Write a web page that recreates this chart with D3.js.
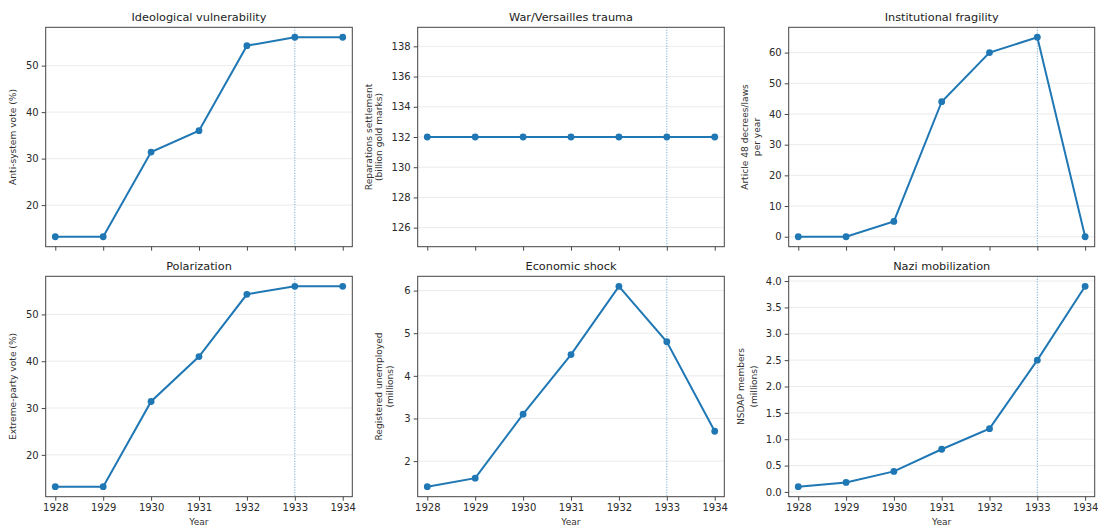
<!DOCTYPE html>
<html><head><meta charset="utf-8">
<script src="https://cdn.jsdelivr.net/npm/d3@7"></script>
<style>body{margin:0;background:#fff}svg{display:block;font-family:"DejaVu Sans",sans-serif}</style>
</head><body>
<svg id="c" width="1098" height="529"></svg>
<script>
const years = [1928, 1929, 1930, 1931, 1932, 1933, 1934];
const markerYear = 1933;
const titles = ["Ideological vulnerability", "War/Versailles trauma", "Institutional fragility", "Polarization", "Economic shock", "Nazi mobilization"];
const yLabels = [["Anti-system vote (%)"], ["Reparations settlement", "(billion gold marks)"], ["Article 48 decrees/laws", "per year"], ["Extreme-party vote (%)"], ["Registered unemployed", "(millions)"], ["NSDAP members", "(millions)"]];
const antiSystem = [13.2, 13.2, 31.4, 36.0, 54.3, 56.1, 56.1];
const reparations = [132, 132, 132, 132, 132, 132, 132];
const article48 = [0, 0, 5, 44, 60, 65, 0];
const extremeVote = [13.2, 13.2, 31.4, 41.0, 54.3, 56.0, 56.0];
const unemployed = [1.4, 1.6, 3.1, 4.5, 6.1, 4.8, 2.7];
const nsdap = [0.1, 0.18, 0.39, 0.81, 1.2, 2.5, 3.9];
const series = [antiSystem, reparations, article48, extremeVote, unemployed, nsdap];
const yTicks = [[20, 30, 40, 50], [126, 128, 130, 132, 134, 136, 138], [0, 10, 20, 30, 40, 50, 60], [20, 30, 40, 50], [2, 3, 4, 5, 6], [0, 0.5, 1, 1.5, 2, 2.5, 3, 3.5, 4]];
const yFormats = ["d", "d", "d", "d", "d", ".1f"];

const svg = d3.select("#c");
const cols = [[45.7, 352.3], [417.7, 724.3], [788.7, 1094.7]];
const rows = [[27.3, 246.7], [276.3, 496.7]];
const labelOffsets = [[30], [46, 36], [41, 29], [30], [36, 25], [45, 32]];

function domainOf(vals) {
  let lo = d3.min(vals), hi = d3.max(vals);
  if (lo === hi) { lo -= Math.abs(lo) * 0.05; hi += Math.abs(hi) * 0.05; }
  const m = (hi - lo) * 0.05;
  return [lo - m, hi + m];
}

series.forEach((vals, i) => {
  const r = Math.floor(i / 3), c = i % 3;
  const [x0, x1] = cols[c], [y0, y1] = rows[r];
  const x = d3.scaleLinear().domain([1927.8, 1934.2]).range([x0, x1]);
  const y = d3.scaleLinear().domain(domainOf(vals)).range([y1, y0]);
  const g = svg.append("g");

  g.selectAll(".grid").data(yTicks[i]).join("line")
    .attr("x1", x0).attr("x2", x1).attr("y1", d => y(d)).attr("y2", d => y(d))
    .attr("stroke", "#e6e6e6").attr("stroke-width", 0.8);

  g.append("line").attr("x1", x(markerYear)).attr("x2", x(markerYear)).attr("y1", y0).attr("y2", y1)
    .attr("stroke", "#1f77b4").attr("stroke-opacity", 0.7).attr("stroke-width", 1).attr("stroke-dasharray", "1,1.6");

  g.append("path").datum(vals.map((v, k) => [years[k], v]))
    .attr("fill", "none").attr("stroke", "#1f77b4").attr("stroke-width", 2)
    .attr("d", d3.line().x(d => x(d[0])).y(d => y(d[1])));
  g.selectAll(".pt").data(vals).join("circle")
    .attr("cx", (d, k) => x(years[k])).attr("cy", d => y(d)).attr("r", 3.4).attr("fill", "#1f77b4");

  const xa = d3.axisBottom(x).tickValues(years).tickSize(4).tickPadding(3).tickFormat(r === 1 ? d3.format("d") : () => "");
  const xg = g.append("g").attr("transform", `translate(0,${y1})`).call(xa);
  const ya = d3.axisLeft(y).tickValues(yTicks[i]).tickSize(4).tickPadding(3).tickFormat(d3.format(yFormats[i]));
  const yg = g.append("g").attr("transform", `translate(${x0},0)`).call(ya);
  [xg, yg].forEach(a => {
    a.select(".domain").remove();
    a.selectAll(".tick line").attr("stroke", "#333").attr("stroke-width", 0.9);
    a.selectAll("text").attr("fill", "#2a2a2a").attr("font-size", 10).attr("font-family", "DejaVu Sans");
  });

  g.append("rect").attr("x", x0).attr("y", y0).attr("width", x1 - x0).attr("height", y1 - y0)
    .attr("fill", "none").attr("stroke", "#444").attr("stroke-width", 1);

  g.append("text").attr("x", (x0 + x1) / 2).attr("y", y0 - 6.5).attr("text-anchor", "middle")
    .attr("font-size", 11.3).attr("fill", "#222").text(titles[i]);

  const lines = yLabels[i];
  lines.forEach((t, k) => {
    const lx = x0 - labelOffsets[i][k];
    g.append("text").attr("transform", `translate(${lx},${(y0 + y1) / 2}) rotate(-90)`)
      .attr("text-anchor", "middle").attr("font-size", 9.1).attr("fill", "#333").text(t);
  });

  if (r === 1) {
    g.append("text").attr("x", (x0 + x1) / 2).attr("y", 525).attr("text-anchor", "middle")
      .attr("font-size", 9.1).attr("fill", "#333").text("Year");
  }
});
</script>
</body></html>
